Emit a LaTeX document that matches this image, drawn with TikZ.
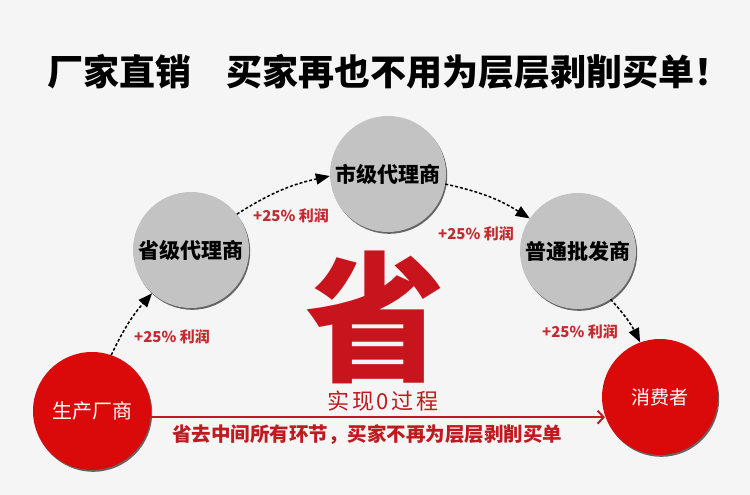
\documentclass[tikz,border=0pt]{standalone}
\usepackage{fontspec}
\setmainfont{Noto Sans CJK SC}
\usetikzlibrary{arrows.meta,shadows}
\definecolor{paper}{HTML}{F5F5F5}
\definecolor{ballgrey}{HTML}{C3C3C3}
\definecolor{ballred}{HTML}{DA0A0A}
\definecolor{shengred}{HTML}{C8141C}
\definecolor{gainred}{HTML}{C42A30}
\definecolor{linered}{HTML}{BF1A20}

\begin{document}
\begin{tikzpicture}[x=1pt,y=1pt,>={Triangle[length=14pt,width=11pt]},
 agent/.style={circle,minimum size=116pt,inner sep=0pt,fill=ballgrey,
  font=\fontsize{21}{21}\selectfont\bfseries,
  drop shadow={shadow xshift=1.2pt,shadow yshift=-1.8pt,opacity=0.85,fill=black!70}},
 buyer/.style={agent,fill=ballred,text=white,font=\fontsize{20}{20}\selectfont},
 gain/.style={text=gainred,font=\fontsize{15}{15}\selectfont\bfseries},
 hop/.style={->,line width=1.5pt,dash pattern=on 3pt off 2pt}]
 \useasboundingbox (0,0) rectangle (750,495);
 \fill[paper] (0,0) rectangle (750,495);

 \node[font=\fontsize{36}{36}\selectfont\bfseries] (title) at (389,423)
  {厂家直销\hspace{1em}买家再也不用为层层剥削买单！};

 \node[agent] (prov) at (191,245) {省级代理商};
 \node[agent] (city) at (388,321) {市级代理商};
 \node[agent] (whole) at (578,244) {普通批发商};
 \node[buyer,minimum size=118pt] (maker) at (92,84) {生产厂商};
 \node[buyer,font=\fontsize{19}{19}\selectfont] (cons) at (660,98) {消费者};

 \path[hop] (maker.71) edge[bend left=8] (prov.228)
  (prov.38) edge[bend left=10] (city.182)
  (city.350) edge[bend left=10] (whole.146)
  (whole.304) edge[bend left=8] (cons.110);

 \node[gain] (g1) at (172,158) {+25\% 利润};
 \node[gain] (g2) at (291,279) {+25\% 利润};
 \node[gain] (g3) at (476,261) {+25\% 利润};
 \node[gain] (g4) at (580,163) {+25\% 利润};

 \node[text=shengred,font=\fontsize{140}{140}\selectfont\bfseries] (sheng) at (375,178) {省};
 \node[text=linered,font=\fontsize{22}{22}\selectfont\addfontfeatures{LetterSpace=12}] (zero) at (383,94) {实现0过程};

 \draw[linered,line width=2.4pt,-{Straight Barb[length=6pt,width=13pt,line width=2pt]}]
  (maker.-6) -- (maker.-6 -| cons.199);
 \node[text=linered,font=\fontsize{19.5}{19.5}\selectfont\bfseries] (skip) at (367,60)
  {省去中间所有环节，买家不再为层层剥削买单};
\end{tikzpicture}
\end{document}
